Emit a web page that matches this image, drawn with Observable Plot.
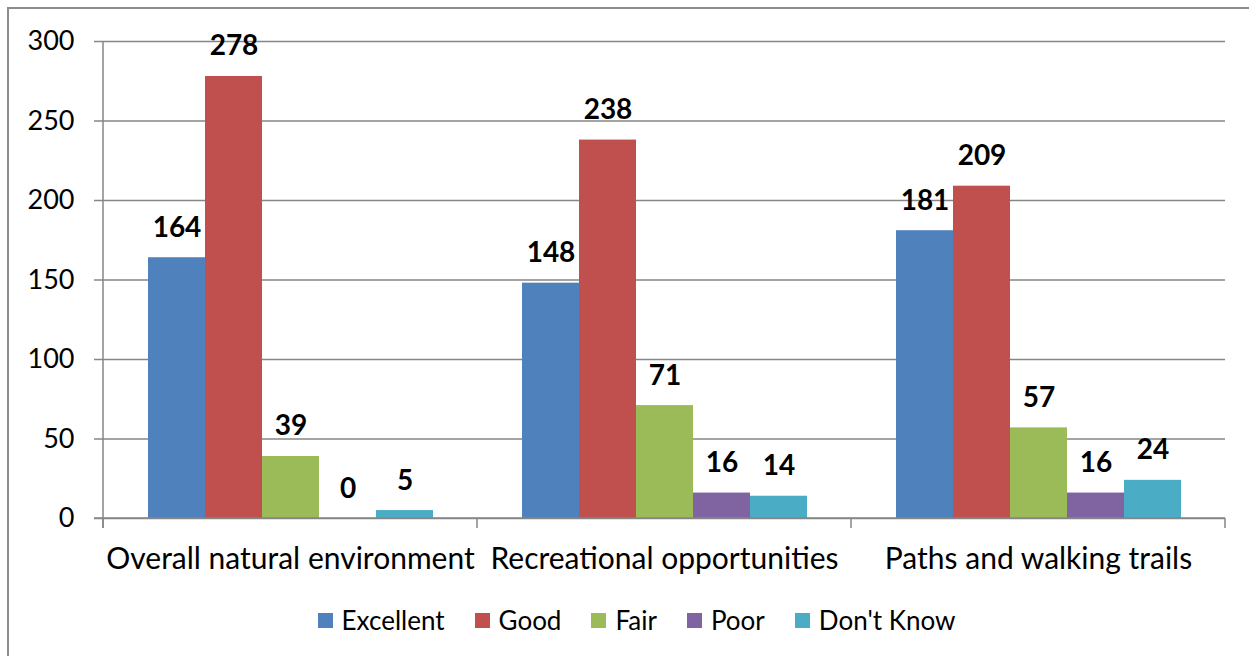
<!DOCTYPE html>
<html>
<head>
<meta charset="utf-8">
<script src="https://cdn.jsdelivr.net/npm/d3@7"></script>
<script src="https://cdn.jsdelivr.net/npm/@observablehq/plot@0.6"></script>
<style>
  html, body { margin: 0; padding: 0; background: #fff; overflow: hidden; }
  #wrap { position: relative; width: 1249px; height: 656px; overflow: hidden; font-family: Lato, sans-serif; }
  #border { position: absolute; left: 7px; top: 7px; width: 1270px; height: 680px; border: 2px solid #8c8c8c; box-sizing: border-box; }
  #chart { position: absolute; left: 0; top: 0; }
  #legend { position: absolute; left: 0; top: 590px; width: 1249px; height: 60px; display: flex; align-items: center; justify-content: center; padding-left: 24px; box-sizing: border-box; font-size: 26px; color: #000; }
  .item { display: flex; align-items: center; margin: 0 15px; }
  .sw { width: 15px; height: 15px; margin-right: 9px; }
</style>
</head>
<body>
<div id="wrap">
  <div id="border"></div>
  <div id="chart"></div>
  <div id="legend"></div>
</div>
<script>
const categories = ["Overall natural environment", "Recreational opportunities", "Paths and walking trails"];
const series = ["Excellent", "Good", "Fair", "Poor", "Don't Know"];
const excellent = [164, 148, 181];
const good = [278, 238, 209];
const fair = [39, 71, 57];
const poor = [0, 16, 16];
const dontKnow = [5, 14, 24];
const colors = ["#4F81BD", "#C0504D", "#9BBB59", "#8064A2", "#4BACC6"];
const yTicks = [0, 50, 100, 150, 200, 250, 300];

const seriesValues = [excellent, good, fair, poor, dontKnow];
const data = categories.flatMap((c, i) => series.map((s, j) => ({category: c, series: s, value: seriesValues[j][i]})));

const gray = "#868686";

const plot = Plot.plot({
  width: 1249,
  height: 590,
  marginLeft: 102,
  marginRight: 23,
  marginTop: 41,
  marginBottom: 72,
  style: {fontFamily: "Lato, sans-serif", fontSize: "26px", color: "#000", background: "transparent"},
  fx: {domain: categories, padding: 0, label: null},
  x: {domain: series, paddingInner: 0, paddingOuter: 0.76, axis: null},
  y: {domain: [0, 300], label: null},
  color: {domain: series, range: colors},
  marks: [
    Plot.gridY(yTicks, {stroke: gray, strokeOpacity: 1, strokeWidth: 1.5}),
    Plot.barY(data, {fx: "category", x: "series", y: "value", fill: "series"}),
    Plot.text(data, {fx: "category", x: "series", y: "value", text: d => String(d.value), lineAnchor: "bottom", dy: -21, fontWeight: "bold", fontSize: 28, fill: "#000"}),
    Plot.axisY(yTicks, {tickSize: 9, tickPadding: 20, stroke: gray, strokeWidth: 1.5, fill: "#000", label: null, fontSize: 27}),
    Plot.axisFx({anchor: "bottom", tickSize: 0, tickPadding: 29, label: null, fill: "#000", fontSize: 30})
  ]
});

// axis line and group boundary ticks from the library's scales
const fx = plot.scale("fx");
const y = plot.scale("y");
const edges = categories.map(c => fx.apply(c));
edges.push(fx.apply(categories[categories.length - 1]) + fx.bandwidth);
const y0 = y.apply(0), yTop = y.apply(300);
const svg = d3.select(plot);
const g = svg.append("g").attr("stroke", gray).attr("stroke-width", 1.5);
g.append("line").attr("x1", edges[0] - 9).attr("x2", edges[edges.length - 1]).attr("y1", y0).attr("y2", y0);
g.append("line").attr("x1", edges[0]).attr("x2", edges[0]).attr("y1", yTop).attr("y2", y0 + 10);
edges.forEach(e => g.append("line").attr("x1", e).attr("x2", e).attr("y1", y0).attr("y2", y0 + 10));

document.getElementById("chart").appendChild(plot);

const legend = document.getElementById("legend");
series.forEach((s, i) => {
  const it = document.createElement("div");
  it.className = "item";
  const sw = document.createElement("div");
  sw.className = "sw";
  sw.style.background = colors[i];
  const t = document.createElement("span");
  t.textContent = s;
  it.appendChild(sw); it.appendChild(t);
  legend.appendChild(it);
});
</script>
</body>
</html>
